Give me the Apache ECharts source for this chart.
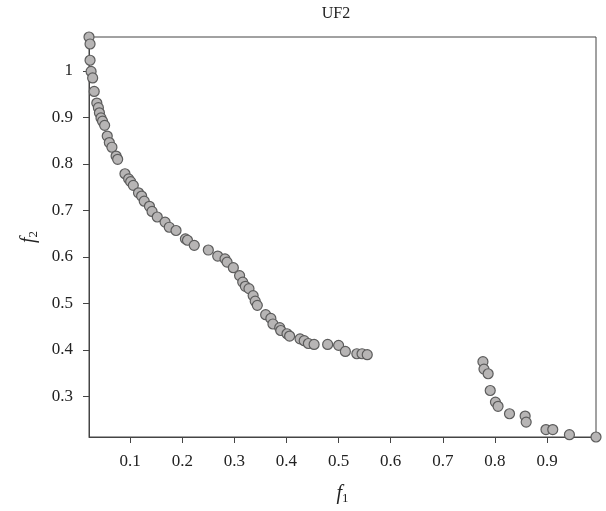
<!DOCTYPE html>
<html>
<head>
<meta charset="utf-8">
<script src="https://cdn.jsdelivr.net/npm/echarts@6/dist/echarts.min.js"></script>
<style>
  html, body { margin: 0; padding: 0; background: #ffffff; }
  #chart { width: 606px; height: 511px; }
</style>
</head>
<body>
<div id="chart"></div>
<script>
// Pareto front approximation for UF2 (objective f1 vs objective f2)
const f1Values = [
  0.021, 0.023, 0.023, 0.025, 0.028, 0.031, 0.036, 0.039, 0.041, 0.044,
  0.047, 0.051, 0.056, 0.060, 0.065, 0.073, 0.076, 0.090, 0.097, 0.101,
  0.106, 0.116, 0.122, 0.127, 0.137, 0.142, 0.152, 0.167, 0.175, 0.188,
  0.206, 0.210, 0.223, 0.250, 0.268, 0.282, 0.286, 0.298, 0.310, 0.316,
  0.321, 0.328, 0.336, 0.340, 0.344, 0.360, 0.370, 0.374, 0.387, 0.389,
  0.401, 0.406, 0.426, 0.434, 0.442, 0.453, 0.479, 0.500, 0.513, 0.535,
  0.545, 0.555, 0.777, 0.779, 0.787, 0.791, 0.801, 0.806, 0.828, 0.858,
  0.860, 0.898, 0.911, 0.943, 0.994
];
const f2Values = [
  1.073, 1.058, 1.023, 0.999, 0.985, 0.956, 0.931, 0.921, 0.910, 0.899,
  0.892, 0.883, 0.860, 0.846, 0.836, 0.817, 0.810, 0.779, 0.768, 0.762,
  0.754, 0.738, 0.731, 0.720, 0.709, 0.698, 0.686, 0.675, 0.664, 0.657,
  0.639, 0.636, 0.625, 0.615, 0.602, 0.596, 0.589, 0.577, 0.560, 0.546,
  0.537, 0.532, 0.517, 0.505, 0.496, 0.476, 0.468, 0.456, 0.448, 0.442,
  0.435, 0.430, 0.424, 0.420, 0.414, 0.412, 0.412, 0.410, 0.397, 0.392,
  0.392, 0.390, 0.375, 0.359, 0.349, 0.313, 0.288, 0.279, 0.263, 0.258,
  0.245, 0.229, 0.229, 0.218, 0.213
];
const xTickValues = [0.1, 0.2, 0.3, 0.4, 0.5, 0.6, 0.7, 0.8, 0.9];
const yTickValues = [0.3, 0.4, 0.5, 0.6, 0.7, 0.8, 0.9, 1];
const chartTitle = 'UF2';

const points = f1Values.map((v, i) => [v, f2Values[i]]);

const serif = "'Liberation Serif', 'DejaVu Serif', serif";
const ink = '#222222';
const frame = '#444444';

const axisNameRich = {
  it: { fontFamily: serif, fontStyle: 'italic', fontSize: 20, color: ink },
  sub: { fontFamily: serif, fontSize: 13, color: ink, padding: [9, 0, 0, 0] }
};

const chart = echarts.init(document.getElementById('chart'), null, { renderer: 'canvas' });
chart.setOption({
  animation: false,
  backgroundColor: '#ffffff',
  title: {
    text: chartTitle,
    left: 331,
    textAlign: 'center',
    top: 1,
    textStyle: { fontFamily: serif, fontSize: 16, fontWeight: 'normal', color: ink }
  },
  grid: {
    left: 89, right: 10, top: 37, bottom: 74,
    show: true, borderColor: frame, borderWidth: 1, backgroundColor: 'transparent'
  },
  xAxis: {
    type: 'value',
    min: 'dataMin',
    max: 'dataMax',
    name: '{it|f}{sub|1}',
    nameLocation: 'middle',
    nameGap: 46,
    nameTextStyle: { rich: axisNameRich },
    axisLine: { show: true, onZero: false, lineStyle: { color: frame, width: 1 } },
    axisTick: { show: true, inside: false, length: 6, customValues: xTickValues, lineStyle: { color: frame } },
    axisLabel: { customValues: xTickValues, margin: 16, fontFamily: serif, fontSize: 17, color: ink,
                 formatter: v => String(v) },
    splitLine: { show: false }
  },
  yAxis: {
    type: 'value',
    min: 'dataMin',
    max: 'dataMax',
    name: '{it|f}{sub|2}',
    nameLocation: 'middle',
    nameGap: 49,
    nameRotate: 90,
    nameTextStyle: { rich: axisNameRich },
    axisLine: { show: true, onZero: false, lineStyle: { color: frame, width: 1 } },
    axisTick: { show: true, inside: false, length: 6, customValues: yTickValues, lineStyle: { color: frame } },
    axisLabel: { customValues: yTickValues, margin: 16, fontFamily: serif, fontSize: 17, color: ink,
                 formatter: v => String(v) },
    splitLine: { show: false }
  },
  series: [{
    type: 'scatter',
    data: points,
    clip: false,
    symbol: 'circle',
    symbolSize: 10,
    itemStyle: { color: '#b7b5b5', borderColor: '#5c5c5c', borderWidth: 1.2, opacity: 1 },
    emphasis: { disabled: true }
  }]
});
</script>
</body>
</html>
